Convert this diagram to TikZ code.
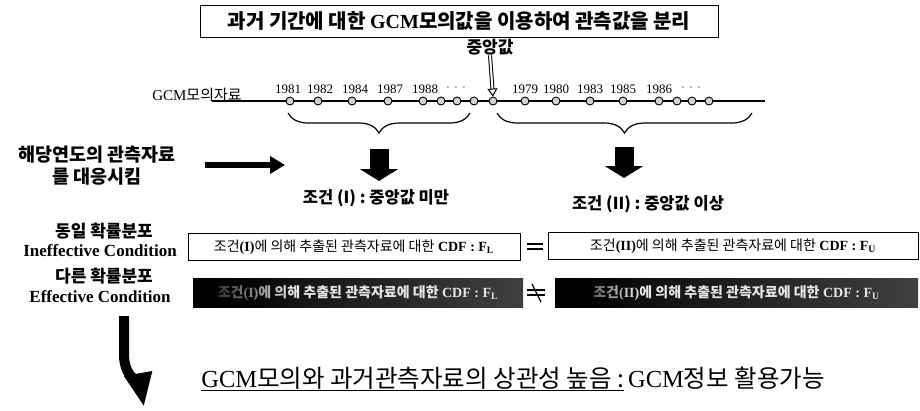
\documentclass[tikz,border=0pt]{standalone}
\usepackage{fontspec}
\setmainfont{Liberation Serif}
\newfontfamily\kr{Noto Sans CJK KR}
\usetikzlibrary{arrows.meta,decorations.pathreplacing,fadings}
\tikzset{
  dotnode/.style={circle,draw,line width=0.9pt,fill=gray!35,inner sep=0pt,minimum size=8pt},
  yearlbl/.style={font=\fontsize{13}{13}\selectfont,inner sep=0pt},
  bracedn/.style={decorate,decoration={brace,mirror,amplitude=20pt,aspect=0.5},line width=1.2pt},
  blockarrow/.style={line width=19pt,-{Triangle[width=38pt,length=12pt]}},
  thinbox/.style={draw,line width=0.8pt,inner sep=0pt,minimum height=27pt,
    font=\fontsize{14}{14}\selectfont},
  darkbox/.style={inner sep=0pt,minimum height=29pt,text=white!80!gray,
    left color=black,right color=gray!50!black,
    font=\fontsize{14}{14}\selectfont\bfseries},
  headkr/.style={font=\fontsize{17}{17}\selectfont\kr\bfseries,inner sep=0pt},
  headen/.style={font=\fontsize{17}{17}\selectfont\bfseries,inner sep=0pt},
  condlbl/.style={font=\fontsize{16.5}{16.5}\selectfont\kr\bfseries,inner sep=0pt},
}
\begin{document}
\begin{tikzpicture}[x=1pt,y=-1pt]
\useasboundingbox (0,0) rectangle (920,410);
% title
\node[draw,line width=0.9pt,minimum width=518pt,minimum height=32pt,inner sep=0pt] (title) at (459,21)
  {\fontsize{20}{20}\selectfont\kr\bfseries 과거 기간에 대한 \rmfamily GCM\kr 모의값을 이용하여 관측값을 분리};
\node[font=\fontsize{17}{17}\selectfont\kr\bfseries,inner sep=0pt] (med) at (490,47) {중앙값};
% timeline
\node[font=\fontsize{15}{15}\selectfont,inner sep=0pt] (gcm) at (197,95) {GCM{\kr 모의자료}};
\coordinate (tl0) at (212,101);
\coordinate (tl1) at (765,101);
\draw[line width=1.1pt] (tl0) -- (tl1);
\node[dotnode] (m) at (493,101) {};
\foreach \x/\n in {290/a1,318/a2,352/a3,388/a4,423/a5,441/a6,457/a7,474/a8,
                   525/b1,556/b2,590/b3,623/b4,659/b5,677/b6,692/b7,709/b8}
  \node[dotnode] (\n) at (\x,101) {};
\foreach \x/\t in {288/1981,320/1982,355/1984,390/1987,425/1988,
                   525/1979,556/1980,590/1983,623/1985,659/1986}
  \node[yearlbl] at (\x,89) {\t};
\node[yearlbl] (ell1) at (456,88) {\textbf{$\cdot\,\cdot\,\cdot$}};
\node[yearlbl] (ell2) at (691,88) {\textbf{$\cdot\,\cdot\,\cdot$}};
\draw[double,double distance=2pt,line width=1pt,-{Triangle[open,length=8pt,width=10pt]}] (med.south) -- (m.north);
% braces
\coordinate (bl0) at (288,113); \coordinate (bl1) at (470,113);
\coordinate (br0) at (497,113); \coordinate (br1) at (752,113);
\draw[bracedn] (bl0) -- (bl1);
\draw[bracedn] (br0) -- (br1);
\coordinate (tipL) at (379,149);
\coordinate (tipR) at (624,147);
\coordinate (endL) at (379,181);
\coordinate (endR) at (624,178);
\node[condlbl] (condL) at (376,198) {조건 (I) : 중앙값 미만};
\node[condlbl] (condR) at (648,204) {조건 (II) : 중앙값 이상};
\draw[blockarrow] (tipL) -- (endL);
\draw[blockarrow] (tipR) -- (endR);
% left label and arrow
\node[font=\fontsize{18.5}{22}\selectfont\kr\bfseries,align=center,inner sep=0pt] (obs) at (97,166)
  {해당연도의 관측자료\\를 대응시킴};
\coordinate (ra0) at (205,165);
\coordinate (ra1) at (285,165);
\draw[line width=6pt,-{Triangle[width=17pt,length=15pt]}] (ra0) -- (ra1);
% row 1
\node[headkr] (same) at (104,231) {동일 확률분포};
\node[headen] (ineff) at (100,251) {Ineffective Condition};
\node[thinbox,minimum width=332pt] (box1) at (354,247)
  {{\kr 조건}\textbf{(I)}{\kr 에 의해 추출된 관측자료에 대한} \textbf{CDF : F\textsubscript{L}}};
\node[thinbox,minimum width=370pt] (box2) at (733,246)
  {{\kr 조건}\textbf{(II)}{\kr 에 의해 추출된 관측자료에 대한} \textbf{CDF : F\textsubscript{U}}};
\coordinate (eq1a) at (527,244); \coordinate (eq1b) at (543,244);
\coordinate (eq2a) at (527,249); \coordinate (eq2b) at (543,249);
\draw[line width=1.8pt] (eq1a) -- (eq1b);
\draw[line width=1.8pt] (eq2a) -- (eq2b);
% row 2
\node[headkr] (diff) at (104,276) {다른 확률분포};
\node[headen] (eff) at (100,297) {Effective Condition};
\node[darkbox,minimum width=330pt] (dbox1) at (358,293)
  {{\kr 조건}(I){\kr 에 의해 추출된 관측자료에 대한} CDF : F\textsubscript{L}};
\node[darkbox,minimum width=363pt] (dbox2) at (736.5,293)
  {{\kr 조건}(II){\kr 에 의해 추출된 관측자료에 대한} CDF : F\textsubscript{U}};
\fill[black,path fading=east] (dbox1.north west) rectangle ([xshift=-230pt]dbox1.south east);
\fill[black,path fading=east] (dbox2.north west) rectangle ([xshift=-280pt]dbox2.south east);
\coordinate (ne1a) at (527,290); \coordinate (ne1b) at (545,290);
\coordinate (ne2a) at (527,295); \coordinate (ne2b) at (545,295);
\coordinate (ne3a) at (532,284); \coordinate (ne3b) at (541,302);
\draw[line width=1.8pt] (ne1a) -- (ne1b);
\draw[line width=1.8pt] (ne2a) -- (ne2b);
\draw[line width=1.2pt] (ne3a) -- (ne3b);
% conclusion
\node[font=\fontsize{24.5}{24.5}\selectfont,inner sep=0pt] (concl) at (513,379)
  {\underline{GCM{\kr 모의와 과거관측자료의 상관성 높음 :}}\,GCM{\kr 정보 활용가능}};
\coordinate (ca0) at (124,316);
\coordinate (ca1) at (124,355);
\coordinate (ca2) at (144,407);
\draw[line width=10pt,-{Triangle[width=26pt,length=34pt]}] (ca0) -- (ca1) to[out=-90,in=100] (ca2);
\end{tikzpicture}
\end{document}
